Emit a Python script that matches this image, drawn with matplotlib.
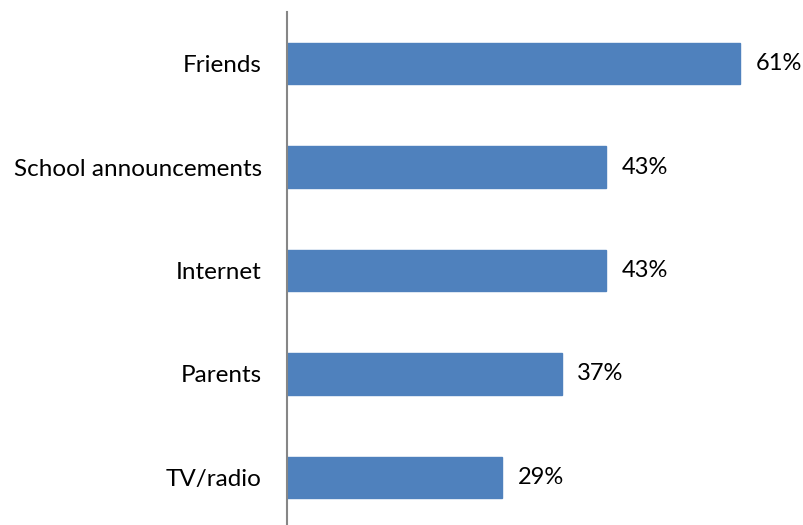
import matplotlib.pyplot as plt

plt.rcParams["font.family"] = ["Lato", "DejaVu Sans"]

categories = ["Friends", "School announcements", "Internet", "Parents", "TV/radio"]
shares = [61, 43, 43, 37, 29]

fig = plt.figure(figsize=(8.04, 5.25), dpi=100)
ax = fig.add_axes([287 / 804, 0, 517 / 804, 513 / 525])

positions = list(range(len(categories)))
ax.barh(positions, shares, height=0.4, color="#4F81BD", edgecolor="#4F81BD")

for pos, val in zip(positions, shares):
    ax.annotate(f"{val}%", xy=(val, pos), xytext=(11, 0), textcoords="offset points",
                va="center", ha="left", fontsize=17, color="#000000", annotation_clip=False)

ax.set_yticks(positions)
ax.set_yticklabels(categories, fontsize=17.5)
ax.tick_params(axis="y", length=0, pad=18)
ax.set_xticks([])
ax.set_xlim(0, 517 / 7.43)
ax.set_ylim(4.46, -0.5)

for side in ["top", "right", "bottom"]:
    ax.spines[side].set_visible(False)
ax.spines["left"].set_color("#868686")
ax.spines["left"].set_linewidth(1.5)

fig.savefig("out.png", dpi=100)
